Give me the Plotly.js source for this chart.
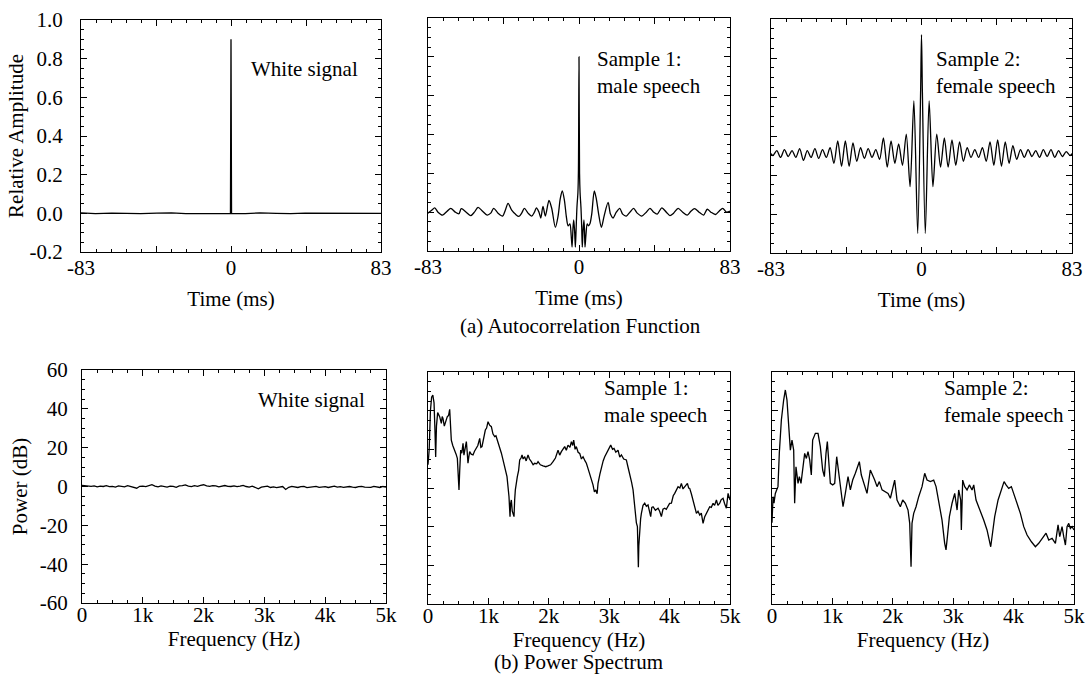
<!DOCTYPE html>
<html>
<head>
<meta charset="utf-8">
<script src="https://cdn.plot.ly/plotly-3.0.1.min.js"></script>
<style>html,body{margin:0;padding:0;background:#fff;}#chart{width:1087px;height:684px;}</style>
</head>
<body>
<div id="chart"></div>
<script>
// ---------------- DATA ----------------
const timeTickVals = [-83, -41.5, 0, 41.5, 83];
const timeTickText = ['-83', '', '0', '', '83'];
const ampTickVals = [-0.2, 0, 0.2, 0.4, 0.6, 0.8, 1.0];
const ampTickText = ['-0.2', '0.0', '0.2', '0.4', '0.6', '0.8', '1.0'];
const freqTickVals = [0, 1000, 2000, 3000, 4000, 5000];
const freqTickText = ['0', '1k', '2k', '3k', '4k', '5k'];
const powerTickVals = [-60, -40, -20, 0, 20, 40, 60];
const powerTickText = ['-60', '-40', '-20', '0', '20', '40', '60'];

const panelLabels = ['White signal', 'Sample 1:<br>male speech', 'Sample 2:<br>female speech'];
const captions = ['(a) Autocorrelation Function', '(b) Power Spectrum'];

// (a) autocorrelation, white signal
const whiteLag = [-83, -75, -66, -58, -50, -41, -33, -25, -16, -8, -0.3, 0, 0.3, 8, 16, 25, 33, 41, 50, 58, 66, 75, 83];
const whiteAc  = [0.002, -0.001, 0.001, 0.0, -0.002, 0.001, 0.002, -0.001, 0.0, 0.001, 0.0, 0.9, 0.0, -0.001, 0.002, 0.0, -0.002, 0.001, 0.0, -0.001, 0.001, -0.002, 0.0];

// (a) autocorrelation, sample 1 (male)
const maleLag = [-83, -81, -79.3, -77.5, -75, -72.5, -70.5, -68, -66, -64.7, -62, -59.5, -57.5, -55.5, -53, -50.5, -48.5, -46.9, -44.5, -42, -40.5, -39, -37, -35, -33, -31.5, -30, -28, -26, -24.5, -23.4, -22, -21, -19.8, -18.5, -16.5, -15, -13, -11.5, -10.3, -9.2, -8, -7, -6, -5, -4.3, -3.8, -3.3, -2.9, -2.4, -2, -1.6, -1.1, -0.6, -0.3, 0, 0.3, 0.6, 1.1, 1.5, 1.8, 2.2, 2.7, 3, 3.3, 3.8, 4.5, 5.2, 6, 7, 8.4, 9.5, 10.8, 12.3, 13.8, 16, 17.3, 18.7, 20.5, 22.4, 24, 26, 28, 30, 32, 34.5, 37, 39, 41, 43, 45.5, 48, 50, 52, 54.5, 57, 59.5, 61.5, 63.5, 66, 68.5, 70.5, 72.5, 75, 77, 79, 81, 83];
const maleAc  = [-0.005, 0.01, 0.022, 0.0, -0.015, 0.005, 0.02, 0.0, -0.008, 0.018, 0.0, -0.018, 0.0, 0.025, 0.005, -0.015, -0.005, 0.02, -0.005, -0.02, 0.01, 0.045, 0.01, -0.01, -0.022, -0.005, 0.02, -0.005, -0.02, 0.0, 0.022, 0.0, -0.03, 0.03, -0.02, 0.06, 0.02, -0.078, -0.02, 0.07, 0.11, 0.06, -0.02, -0.07, -0.06, -0.12, -0.18, -0.08, -0.04, -0.1, -0.18, -0.09, 0.03, 0.1, 0.22, 0.8, 0.2, 0.1, 0.02, -0.08, -0.18, -0.1, -0.04, -0.09, -0.18, -0.12, -0.06, -0.07, -0.06, -0.01, 0.11, 0.07, -0.01, -0.078, -0.02, 0.05, -0.01, -0.03, 0.0, 0.02, -0.01, -0.02, 0.0, 0.02, -0.005, -0.02, 0.0, 0.02, 0.0, -0.01, 0.022, 0.0, -0.018, -0.005, 0.02, 0.0, -0.015, 0.005, 0.018, 0.0, -0.015, 0.015, 0.0, -0.012, 0.005, 0.02, 0.0, 0.005];

// (a) autocorrelation, sample 2 (female)
const femaleLag = [-83, -81.9, -79.8, -77.7, -75.6, -73.5, -71.4, -69.3, -67.2, -65.1, -63.0, -60.9, -58.8, -56.7, -54.6, -52.5, -50.4, -48.3, -46.2, -44.1, -42.0, -39.9, -37.8, -35.7, -33.6, -31.5, -29.4, -27.3, -25.2, -23.1, -21.0, -18.9, -16.8, -14.7, -12.6, -10.5, -8.4, -6.3, -4.2, -2.1, -0.5, 0, 0.5, 2.1, 4.2, 6.3, 8.4, 10.5, 12.6, 14.7, 16.8, 18.9, 21.0, 23.1, 25.2, 27.3, 29.4, 31.5, 33.6, 35.7, 37.8, 39.9, 42.0, 44.1, 46.2, 48.3, 50.4, 52.5, 54.6, 56.7, 58.8, 60.9, 63.0, 65.1, 67.2, 69.3, 71.4, 73.5, 75.6, 77.7, 79.8, 81.9, 83];
const femaleAc  = [0.31, 0.30, 0.325, 0.29, 0.33, 0.295, 0.325, 0.29, 0.335, 0.275, 0.325, 0.29, 0.335, 0.285, 0.33, 0.29, 0.34, 0.26, 0.375, 0.245, 0.375, 0.245, 0.365, 0.27, 0.34, 0.285, 0.335, 0.29, 0.33, 0.28, 0.39, 0.24, 0.375, 0.26, 0.36, 0.25, 0.41, 0.14, 0.58, -0.10, 0.62, 0.92, 0.62, -0.10, 0.58, 0.14, 0.41, 0.24, 0.39, 0.24, 0.38, 0.25, 0.37, 0.27, 0.34, 0.29, 0.33, 0.29, 0.34, 0.27, 0.37, 0.25, 0.38, 0.245, 0.37, 0.26, 0.35, 0.28, 0.33, 0.29, 0.33, 0.295, 0.325, 0.29, 0.33, 0.295, 0.33, 0.29, 0.325, 0.295, 0.32, 0.30, 0.31];

// (b) power spectrum, white signal
const whiteFreq = [0, 50, 100, 150, 200, 250, 300, 350, 400, 450, 500, 550, 600, 650, 700, 750, 800, 850, 900, 950, 1000, 1050, 1100, 1150, 1200, 1250, 1300, 1350, 1400, 1450, 1500, 1550, 1600, 1650, 1700, 1750, 1800, 1850, 1900, 1950, 2000, 2050, 2100, 2150, 2200, 2250, 2300, 2350, 2400, 2450, 2500, 2550, 2600, 2650, 2700, 2750, 2800, 2850, 2900, 2950, 3000, 3050, 3100, 3150, 3200, 3250, 3300, 3350, 3400, 3450, 3500, 3550, 3600, 3650, 3700, 3750, 3800, 3850, 3900, 3950, 4000, 4050, 4100, 4150, 4200, 4250, 4300, 4350, 4400, 4450, 4500, 4550, 4600, 4650, 4700, 4750, 4800, 4850, 4900, 4950, 5000];
const whitePsd  = [0.6, 0.4, 0.5, 0.1, 0.3, -0.2, 0.2, 0.0, 0.4, -0.1,
                   0.1, -0.3, 0.3, 0.1, -0.2, 0.4, 0.0, -0.6, -0.9, 0.1,
                   0.2, -0.1, 0.5, 0.9, 0.2, -0.2, 0.3, 0.0, -0.3, 0.2,
                   0.1, -0.4, 0.3, 0.5, 0.8, 0.2, -0.1, 0.4, 0.1, 0.6,
                   0.9, 0.3, 0.1, 0.4, 0.3, -0.2, 0.2, 0.5, 0.1, 0.0,
                   0.3, -0.1, 0.2, 0.6, 0.0, -0.3, 0.2, -0.4, -1.2, -0.3,
                   -0.1, 0.2, -0.5, -0.2, -0.6, -0.3, 0.0, -1.5, -0.4, 0.1,
                   -0.2, -0.5, -0.1, 0.0, -0.6, -0.3, -0.2, 0.1, -0.4, -0.2,
                   -0.1, -0.5, -0.2, 0.2, -0.3, -0.1, -0.4, -0.2, 0.0, -0.3,
                   -0.5, -0.1, 0.1, -0.3, -0.2, -0.4, 0.1, -0.2, -0.5, 0.0,
                   -0.3];

// (b) power spectrum, sample 1 (male)
const maleFreq = [0, 20, 40, 60, 80, 100, 115, 127, 140, 160, 193, 221, 235, 248, 270, 287, 305, 320, 340, 359, 372, 386, 410, 442, 465, 486, 500, 513, 525, 541, 560, 580, 595, 607, 620, 635, 648, 662, 675, 690, 715, 745, 770, 800, 825, 856, 875, 894, 920, 949, 970, 994, 1020, 1049, 1075, 1104, 1125, 1148, 1187, 1215, 1242, 1275, 1308, 1341, 1350, 1358, 1368, 1380, 1395, 1408, 1424, 1435, 1446, 1479, 1500, 1518, 1540, 1557, 1575, 1601, 1625, 1656, 1680, 1711, 1740, 1766, 1800, 1822, 1860, 1904, 1950, 1987, 2030, 2070, 2110, 2153, 2180, 2208, 2240, 2263, 2290, 2318, 2350, 2374, 2395, 2412, 2435, 2456, 2485, 2512, 2540, 2567, 2600, 2622, 2650, 2677, 2705, 2732, 2755, 2777, 2800, 2815, 2845, 2870, 2900, 2926, 2955, 2981, 3010, 3025, 3055, 3080, 3110, 3146, 3175, 3202, 3240, 3284, 3310, 3340, 3370, 3395, 3415, 3433, 3450, 3467, 3476, 3483, 3490, 3505, 3520, 3533, 3560, 3588, 3615, 3643, 3665, 3687, 3705, 3726, 3765, 3809, 3835, 3864, 3890, 3919, 3945, 3974, 4000, 4030, 4060, 4085, 4115, 4140, 4170, 4195, 4222, 4250, 4275, 4295, 4315, 4333, 4360, 4388, 4415, 4444, 4470, 4499, 4525, 4554, 4580, 4609, 4635, 4664, 4690, 4720, 4745, 4775, 4800, 4830, 4855, 4885, 4910, 4940, 4968, 5000];
const malePsd  = [12, 20, 40, 47, 48, 44, 30, 16, 32, 39, 36.9, 33.4, 37, 36, 32, 34.3, 35.5, 36.9, 37.5, 40.7, 33, 24.8, 22, 19.6, 17.5, 15.3, 8, -1, 9, 19.6, 18, 23.1, 17, 18.8, 22, 24, 19, 12.8, 16, 18.8, 17.5, 17.1, 19, 20.5, 22, 25.7, 21, 21.4, 26, 30, 31, 34.3, 32.5, 31.7, 28, 26.6, 27, 24.8, 21.4, 18, 14.5, 10, 5.9, -4.5, -10, -14.8, -8, -6.2, -12, -13.1, -14.8, -6, -1, 5.9, 9, 14.5, 15.5, 17.1, 15, 16.2, 14, 17.1, 15, 13.6, 12, 12.8, 12.5, 13.6, 12, 11.4, 11, 11.4, 12, 13.6, 15.5, 19.6, 17, 18.8, 20, 21.4, 19.5, 22.2, 21, 24, 22, 24.8, 20, 21.4, 18.5, 17.9, 15, 16.2, 14, 12.8, 10, 7.6, 4, 1.6, -2, -1, -3, 2.4, 7, 11, 14, 16.2, 18, 19.6, 21, 22.2, 20, 20.5, 18.5, 19.6, 16, 17.1, 15, 14.5, 11, 7.6, 3, -1, -8, -13.1, -18, -20, -32, -41, -30, -18.3, -16, -13.1, -9, -7.9, -9.5, -8.8, -12, -14.8, -10, -9.7, -11.5, -10.5, -12, -14.8, -11, -10.5, -11, -9.7, -8, -7.9, -4, -2.8, -1, 0.7, 0, 2.4, -0.5, 0.7, 2, 2.4, 0, -0.2, -3, -6.2, -10, -13.1, -12, -14, -13, -18.3, -15, -13.1, -11, -9.7, -10, -7.9, -9, -6.2, -9, -7.9, -6, -5.3, -8, -10.5, -2.8, -6.2];

// (b) power spectrum, sample 2 (female)
const femaleFreq = [0, 17, 33, 55, 77, 99, 121, 155, 193, 221, 248, 276, 304, 331, 359, 375, 397, 431, 453, 480, 508, 541, 569, 596, 624, 651, 673, 718, 762, 800, 839, 867, 894, 916, 938, 966, 1005, 1038, 1071, 1104, 1143, 1176, 1214, 1259, 1297, 1336, 1380, 1424, 1446, 1479, 1518, 1573, 1628, 1656, 1700, 1739, 1777, 1822, 1877, 1921, 1960, 1998, 2031, 2070, 2125, 2164, 2208, 2252, 2280, 2302, 2318, 2346, 2385, 2429, 2484, 2528, 2567, 2622, 2677, 2716, 2760, 2815, 2859, 2881, 2904, 2937, 2981, 3025, 3064, 3091, 3124, 3135, 3157, 3191, 3229, 3268, 3312, 3340, 3378, 3422, 3467, 3505, 3560, 3599, 3621, 3643, 3687, 3743, 3798, 3842, 3875, 3919, 3963, 4002, 4057, 4112, 4168, 4223, 4295, 4361, 4416, 4482, 4537, 4582, 4637, 4692, 4736, 4764, 4802, 4830, 4858, 4885, 4913, 4940, 4968, 5000];
const femalePsd  = [-18, -4.5, -7.9, -2.8, -1, 0.7, 18, 35.2, 45.5, 50.7, 45.5, 33.4, 19.6, 24.8, 19.6, -7.9, 11, 2.4, 5.9, 2.4, 9.3, 17.9, 15.3, 18.8, 14.5, 6.7, 24.8, 28.3, 28.3, 21.4, 9.3, 5.9, 17.9, 24, 14.5, 2.4, 1.6, 2.4, 16.2, 7.6, -1, -9.7, -2.8, 5.9, -1, 4.1, 7.6, 11, 13.6, 6.7, 2.4, -2.8, 9.3, 7.6, 4.1, 0.7, 3.3, -1, -1.9, -2.8, -5.3, 0.7, 4.1, -6.2, -9.7, -6.2, -7.9, -11.4, -18.3, -40.7, -18.3, -13.1, -9.7, -4.5, 0.7, 7.6, 4.1, 3.3, 4.1, 0.7, -6.2, -16.6, -28.6, -32, -25.2, -14.8, -7.9, -2.8, -11.4, -1, -6.2, -21.7, 4.1, 0.7, -1, 1.6, -1, 1.6, -6.2, -9.7, -13.1, -16.6, -21.7, -26.9, -30.4, -25.2, -14.8, -6.2, -1, 3.3, 1.6, -0.2, 0.7, -2.8, -7.9, -13.1, -20, -24.3, -27.8, -30.4, -28.6, -26, -23.4, -26.9, -26, -28.6, -19.1, -25.2, -20, -25.2, -29.5, -20, -18.3, -20.9, -20, -21.7];

// ---------------- CHART ----------------
const FONT = 'Liberation Serif';
const FS = 21;
const P = (px) => px / 1087;          // horizontal pixel -> paper
const Q = (py) => 1 - py / 684;       // vertical pixel -> paper

function line(x, y, xa, ya, shape) {
  return {type: 'scatter', mode: 'lines', x: x, y: y, xaxis: xa, yaxis: ya,
          line: {color: 'black', width: 1.3, shape: shape || 'linear', smoothing: 0.8},
          hoverinfo: 'skip', showlegend: false};
}
const data = [
  line(whiteLag, whiteAc, 'x', 'y'),
  line(maleLag, maleAc, 'x2', 'y2', 'spline'),
  line(femaleLag, femaleAc, 'x3', 'y3', 'spline'),
  line(whiteFreq, whitePsd, 'x4', 'y4'),
  line(maleFreq, malePsd, 'x5', 'y5'),
  line(femaleFreq, femalePsd, 'x6', 'y6')
];

function tf() { return {family: FONT, size: FS, color: 'black'}; }
function ax(o) {
  return Object.assign({
    showline: true, linecolor: 'black', linewidth: 1, mirror: 'allticks',
    ticks: 'inside', ticklen: 6, tickwidth: 1, tickcolor: 'black',
    showgrid: false, zeroline: false, fixedrange: true,
    tickfont: tf()
  }, o);
}
function timeAxis(dom, anchor) {
  return ax({domain: dom, anchor: anchor, range: [-83, 83], tickmode: 'array',
    tickvals: timeTickVals, ticktext: timeTickText, ticklabelstandoff: -3,
    minor: {ticks: 'inside', ticklen: 3, tickcolor: 'black', dtick: 8.3, tick0: -83},
    title: {text: 'Time (ms)', font: tf(), standoff: 12}});
}
function freqAxis(dom, anchor) {
  return ax({domain: dom, anchor: anchor, range: [0, 5000], tickmode: 'array',
    tickvals: freqTickVals, ticktext: freqTickText, ticklabelstandoff: -7,
    minor: {ticks: 'inside', ticklen: 3, tickcolor: 'black', dtick: 250, tick0: 0},
    title: {text: 'Frequency (Hz)', font: tf(), standoff: 1}});
}
function ampAxis(dom, anchor, labels) {
  return ax({domain: dom, anchor: anchor, range: [-0.2, 1.0], tickmode: 'array',
    tickvals: ampTickVals, ticktext: ampTickText, showticklabels: labels,
    ticklabelstandoff: 13,
    minor: {ticks: 'inside', ticklen: 3, tickcolor: 'black', dtick: 0.05, tick0: 0},
    title: labels ? {text: 'Relative Amplitude', font: tf(), standoff: 0} : {text: ''}});
}
function powAxis(dom, anchor, labels) {
  return ax({domain: dom, anchor: anchor, range: [-60, 60], tickmode: 'array',
    tickvals: powerTickVals, ticktext: powerTickText, showticklabels: labels,
    ticklabelstandoff: 9,
    minor: {ticks: 'inside', ticklen: 3, tickcolor: 'black', dtick: 5, tick0: 0},
    title: labels ? {text: 'Power (dB)', font: tf(), standoff: 6} : {text: ''}});
}

function note(text, px, py, anchor) {
  return {text: text, xref: 'paper', yref: 'paper', x: P(px), y: Q(py),
          xanchor: anchor || 'left', yanchor: 'middle', align: 'left', showarrow: false,
          font: tf()};
}

const layout = {
  width: 1087, height: 684,
  margin: {l: 0, r: 0, t: 0, b: 0},
  paper_bgcolor: 'white', plot_bgcolor: 'white',
  showlegend: false,
  font: tf(),
  xaxis:  timeAxis([P(81), P(381)], 'y'),
  yaxis:  ampAxis([Q(252), Q(20)], 'x', true),
  xaxis2: timeAxis([P(428), P(730)], 'y2'),
  yaxis2: ampAxis([Q(251), Q(18)], 'x2', false),
  xaxis3: timeAxis([P(771), P(1072)], 'y3'),
  yaxis3: ampAxis([Q(253), Q(19)], 'x3', false),
  xaxis4: freqAxis([P(82), P(386)], 'y4'),
  yaxis4: powAxis([Q(603), Q(370)], 'x4', true),
  xaxis5: freqAxis([P(428), P(730)], 'y5'),
  yaxis5: powAxis([Q(604), Q(372)], 'x5', false),
  xaxis6: freqAxis([P(772), P(1074)], 'y6'),
  yaxis6: powAxis([Q(604), Q(372)], 'x6', false),
  annotations: [
    note(panelLabels[0], 249, 69),
    note(panelLabels[1], 595, 72),
    note(panelLabels[2], 934, 72),
    note(panelLabels[0], 256, 400),
    note(panelLabels[1], 602, 401),
    note(panelLabels[2], 942, 401),
    note(captions[0], 580, 326, 'center'),
    note(captions[1], 578, 662, 'center')
  ]
};

Plotly.newPlot('chart', data, layout, {displayModeBar: false, staticPlot: true});
</script>
</body>
</html>
